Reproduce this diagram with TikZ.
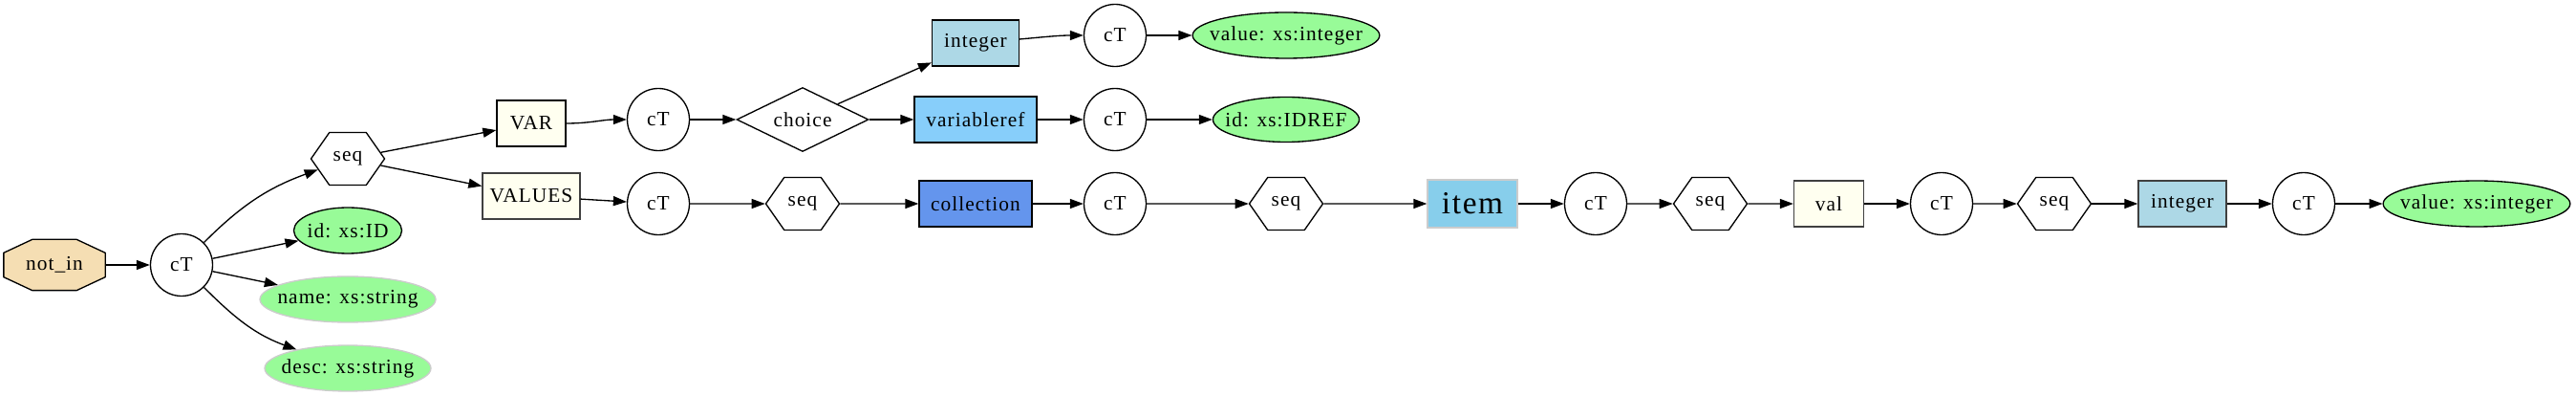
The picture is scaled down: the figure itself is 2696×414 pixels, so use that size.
\documentclass[tikz,border=0pt]{standalone}
\usepackage{fontspec}
\setmainfont{Liberation Serif}[LetterSpace=5]
\usepackage{tikz}
\usetikzlibrary{arrows.meta, shapes.geometric, shapes.symbols, backgrounds}

\newcommand{\lblfont}{\fontsize{16pt}{18pt}\selectfont}
\newcommand{\bigfont}{\fontsize{25pt}{28pt}\selectfont}

\tikzset{
  base/.style={line width=1pt, inner sep=0pt, font=\lblfont},
  ctnode/.style={base, draw, circle, minimum size=48.75pt},
  seqnode/.style={base, draw, signal, signal to=east and west, signal pointer angle=110,
    minimum width=57.75pt, minimum height=41.25pt},
  boxnode/.style={base, draw, rectangle, minimum height=36pt},
  attrnode/.style={base, draw, ellipse, fill=attrgreen, inner xsep=-8pt, minimum height=36pt},
  conn/.style={line width=1pt, -{Triangle[length=10.5pt, width=7.5pt]}}
}

\begin{document}
\begin{tikzpicture}[x=0.75pt, y=0.75pt]
  % Define colors
  \definecolor{notincolor}{RGB}{245, 222, 179}
  \definecolor{attrgreen}{RGB}{152, 251, 152}
  \definecolor{varcolor}{RGB}{255, 255, 240}
  \definecolor{intcolor}{RGB}{173, 216, 230}
  \definecolor{refcolor}{RGB}{135, 206, 250}
  \definecolor{collcolor}{RGB}{100, 149, 237}
  \definecolor{itemcolor}{RGB}{135, 206, 235}

  \useasboundingbox (0,0) rectangle (2696,414);

  % Root element (octagon drawn behind its label)
  \node[base, minimum width=78.75pt, minimum height=39pt] (notin) at (57,137) {not\_in};
  \begin{scope}[on background layer]
    \draw[line width=1pt, fill=notincolor]
      ([xshift=22.5pt]notin.north west) -- ([xshift=-22.5pt]notin.north east)
      -- ([yshift=-10.5pt]notin.north east) -- ([yshift=10.5pt]notin.south east)
      -- ([xshift=-22.5pt]notin.south east) -- ([xshift=22.5pt]notin.south west)
      -- ([yshift=10.5pt]notin.south west) -- ([yshift=-10.5pt]notin.north west) -- cycle;
  \end{scope}
  \node[ctnode] (ct0) at (190,137) {cT};

  % Attributes of not_in
  \node[attrnode, minimum width=84.75pt] (id) at (364,173) {id: xs:ID};
  \node[attrnode, draw=black!20, minimum width=138pt] (name) at (364,101) {name: xs:string};
  \node[attrnode, draw=black!20, minimum width=130.5pt] (desc) at (364,29) {desc: xs:string};

  % VAR and VALUES
  \node[seqnode] (seqA) at (364,248) {seq};
  \node[boxnode, fill=varcolor, minimum width=54pt] (var) at (556,285) {VAR};
  \node[boxnode, draw=black!75, fill=varcolor, minimum width=76.5pt] (values) at (556,209) {VALUES};
  \node[ctnode] (ctVar) at (689,289) {cT};
  \node[ctnode] (ctVal) at (689,201) {cT};

  % VAR content
  \node[base, draw, diamond, aspect=2.06, minimum width=103.5pt,
    minimum height=50.25pt] (choice) at (840,289) {choice};
  \node[boxnode, fill=intcolor, minimum width=68.25pt] (intA) at (1021,369) {integer};
  \node[boxnode, fill=refcolor, minimum width=96pt] (vref) at (1021,289) {variableref};
  \node[ctnode] (ctIntA) at (1167,377) {cT};
  \node[ctnode] (ctVref) at (1167,289) {cT};
  \node[attrnode, minimum width=146.25pt] (valueA) at (1346,377) {value: xs:integer};
  \node[attrnode, minimum width=114.75pt, minimum height=35.25pt] (idref) at (1346,289) {id: xs:IDREF};

  % VALUES content
  \node[seqnode] (seqB) at (840,201) {seq};
  \node[boxnode, fill=collcolor, minimum width=88.5pt] (coll) at (1021,201) {collection};
  \node[ctnode] (ctColl) at (1167,201) {cT};
  \node[seqnode] (seqC) at (1346,201) {seq};
  \node[boxnode, draw=black!20, fill=itemcolor, font=\bigfont,
    minimum width=70.5pt, minimum height=37.5pt] (item) at (1541,201) {item};
  \node[ctnode] (ctItem) at (1670,201) {cT};
  \node[seqnode] (seqD) at (1790,201) {seq};
  \node[boxnode, draw=black!75, fill=varcolor, minimum width=54.75pt] (val) at (1914,201) {val};
  \node[ctnode] (ctV) at (2032,201) {cT};
  \node[seqnode] (seqE) at (2150,201) {seq};
  \node[boxnode, draw=black!75, fill=intcolor, minimum width=69pt] (intB) at (2284,201) {integer};
  \node[ctnode] (ctIntB) at (2411,201) {cT};
  \node[attrnode, minimum width=146.25pt] (valueB) at (2592,201) {value: xs:integer};

  % Connectors
  \draw[conn] (notin) -- (ct0);
  \draw[conn] (ct0) to[out=45, in=200] (seqA);
  \draw[conn] (ct0) -- (id);
  \draw[conn] (ct0) -- (name);
  \draw[conn] (ct0) to[out=-45, in=160] (desc);
  \draw[conn] (seqA) -- (var);
  \draw[conn] (seqA) -- (values);
  \draw[conn] (var) to[out=0, in=180] (ctVar);
  \draw[conn] (values) -- (ctVal);
  \draw[conn] (ctVar) -- (choice);
  \draw[conn] (choice) -- (intA);
  \draw[conn] (choice) -- (vref);
  \draw[conn] (intA) to[out=5, in=180] (ctIntA);
  \draw[conn] (ctIntA) -- (valueA);
  \draw[conn] (vref) -- (ctVref);
  \draw[conn] (ctVref) -- (idref);
  \draw[conn] (ctVal) -- (seqB);
  \draw[conn] (seqB) -- (coll);
  \draw[conn] (coll) -- (ctColl);
  \draw[conn] (ctColl) -- (seqC);
  \draw[conn] (seqC) -- (item);
  \draw[conn] (item) -- (ctItem);
  \draw[conn] (ctItem) -- (seqD);
  \draw[conn] (seqD) -- (val);
  \draw[conn] (val) -- (ctV);
  \draw[conn] (ctV) -- (seqE);
  \draw[conn] (seqE) -- (intB);
  \draw[conn] (intB) -- (ctIntB);
  \draw[conn] (ctIntB) -- (valueB);
\end{tikzpicture}
\end{document}
